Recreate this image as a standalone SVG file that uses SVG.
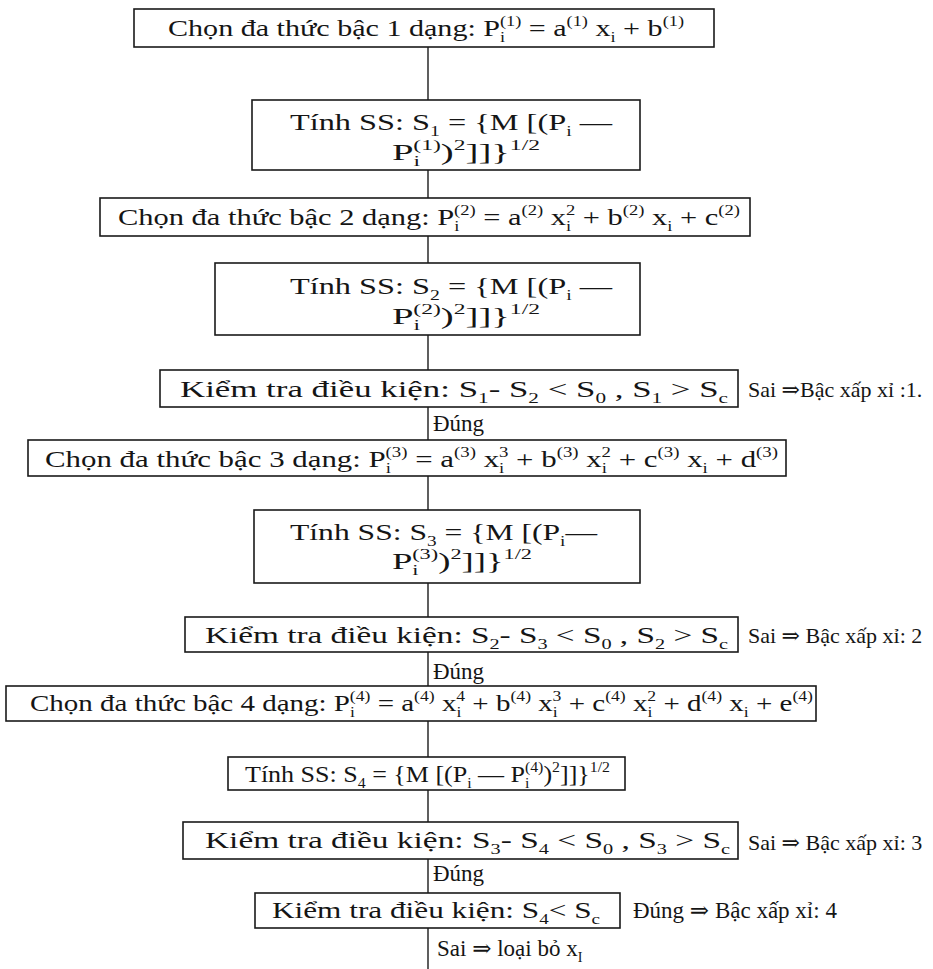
<svg xmlns="http://www.w3.org/2000/svg" width="933" height="969" viewBox="0 0 933 969">
<style>
.t{font-family:"Liberation Serif","Times New Roman","DejaVu Serif","Noto Serif",serif;font-size:23px;fill:#151515}
.r{font-size:22px}
.s{font-size:14px}
.box{fill:none;stroke:#1a1a1a;stroke-width:1.6}
.ln{stroke:#1a1a1a;stroke-width:1.4;fill:none}
</style>
<rect width="933" height="969" fill="#fff"/>
<g id="connectors">
<line class="ln" x1="428" y1="47" x2="428" y2="100"/>
<line class="ln" x1="428" y1="170" x2="428" y2="198"/>
<line class="ln" x1="428" y1="236" x2="428" y2="263"/>
<line class="ln" x1="428" y1="335" x2="428" y2="370"/>
<line class="ln" x1="428" y1="407" x2="428" y2="440"/>
<line class="ln" x1="428" y1="476" x2="428" y2="510"/>
<line class="ln" x1="428" y1="583" x2="428" y2="617"/>
<line class="ln" x1="428" y1="652" x2="428" y2="686"/>
<line class="ln" x1="428" y1="721" x2="428" y2="757"/>
<line class="ln" x1="428" y1="790" x2="428" y2="822"/>
<line class="ln" x1="428" y1="859" x2="428" y2="893"/>
<line class="ln" x1="428" y1="928" x2="428" y2="969"/>
</g>
<g id="n1">
<rect class="box" x="134" y="9" width="580" height="38"/>
<text class="t" x="168" y="36" textLength="516" lengthAdjust="spacingAndGlyphs">Chọn đa thức bậc 1 dạng: P<tspan class="s" dy="6">i</tspan><tspan class="s" dx="-4" dy="-16">(1)</tspan><tspan dy="10"> = a</tspan><tspan class="s" dy="-10">(1)</tspan><tspan dy="10"> x</tspan><tspan class="s" dy="6">i</tspan><tspan dy="-6"> + b</tspan><tspan class="s" dy="-10">(1)</tspan></text>
</g>
<g id="n2">
<rect class="box" x="252" y="100" width="388" height="70"/>
<text class="t" x="290" y="130" textLength="322" lengthAdjust="spacingAndGlyphs">Tính SS: S<tspan class="s" dy="6">1</tspan><tspan dy="-6"> = {M [(P</tspan><tspan class="s" dy="6">i</tspan><tspan dy="-6"> —</tspan></text>
<text class="t" x="392" y="160" textLength="148" lengthAdjust="spacingAndGlyphs">P<tspan class="s" dy="6">i</tspan><tspan class="s" dx="-4" dy="-16">(1)</tspan><tspan dy="10">)</tspan><tspan class="s" dy="-10">2</tspan><tspan dy="10">]]}</tspan><tspan class="s" dy="-10">1/2</tspan></text>
</g>
<g id="n3">
<rect class="box" x="100" y="198" width="650" height="38"/>
<text class="t" x="118" y="225" textLength="622" lengthAdjust="spacingAndGlyphs">Chọn đa thức bậc 2 dạng: P<tspan class="s" dy="6">i</tspan><tspan class="s" dx="-4" dy="-16">(2)</tspan><tspan dy="10"> = a</tspan><tspan class="s" dy="-10">(2)</tspan><tspan dy="10"> x</tspan><tspan class="s" dy="6">i</tspan><tspan class="s" dx="-4" dy="-16">2</tspan><tspan dy="10"> + b</tspan><tspan class="s" dy="-10">(2)</tspan><tspan dy="10"> x</tspan><tspan class="s" dy="6">i</tspan><tspan dy="-6"> + c</tspan><tspan class="s" dy="-10">(2)</tspan></text>
</g>
<g id="n4">
<rect class="box" x="215" y="263" width="425" height="72"/>
<text class="t" x="290" y="294" textLength="322" lengthAdjust="spacingAndGlyphs">Tính SS: S<tspan class="s" dy="6">2</tspan><tspan dy="-6"> = {M [(P</tspan><tspan class="s" dy="6">i</tspan><tspan dy="-6"> —</tspan></text>
<text class="t" x="392" y="324" textLength="148" lengthAdjust="spacingAndGlyphs">P<tspan class="s" dy="6">i</tspan><tspan class="s" dx="-4" dy="-16">(2)</tspan><tspan dy="10">)</tspan><tspan class="s" dy="-10">2</tspan><tspan dy="10">]]}</tspan><tspan class="s" dy="-10">1/2</tspan></text>
</g>
<g id="n5">
<rect class="box" x="160" y="370" width="578" height="37"/>
<text class="t" x="180" y="397" textLength="548" lengthAdjust="spacingAndGlyphs">Kiểm tra điều kiện: S<tspan class="s" dy="6">1</tspan><tspan dy="-6">- S</tspan><tspan class="s" dy="6">2</tspan><tspan dy="-6"> &lt; S</tspan><tspan class="s" dy="6">0</tspan><tspan dy="-6"> , S</tspan><tspan class="s" dy="6">1</tspan><tspan dy="-6"> &gt; S</tspan><tspan class="s" dy="6">c</tspan></text>
<text class="t r" x="748" y="397">Sai ⇒Bậc xấp xỉ :1.</text>
<text class="t" x="433" y="431">Đúng</text>
</g>
<g id="n6">
<rect class="box" x="28" y="440" width="758" height="36"/>
<text class="t" x="45" y="467" textLength="733" lengthAdjust="spacingAndGlyphs">Chọn đa thức bậc 3 dạng: P<tspan class="s" dy="6">i</tspan><tspan class="s" dx="-4" dy="-16">(3)</tspan><tspan dy="10"> = a</tspan><tspan class="s" dy="-10">(3)</tspan><tspan dy="10"> x</tspan><tspan class="s" dy="6">i</tspan><tspan class="s" dx="-4" dy="-16">3</tspan><tspan dy="10"> + b</tspan><tspan class="s" dy="-10">(3)</tspan><tspan dy="10"> x</tspan><tspan class="s" dy="6">i</tspan><tspan class="s" dx="-4" dy="-16">2</tspan><tspan dy="10"> + c</tspan><tspan class="s" dy="-10">(3)</tspan><tspan dy="10"> x</tspan><tspan class="s" dy="6">i</tspan><tspan dy="-6"> + d</tspan><tspan class="s" dy="-10">(3)</tspan></text>
</g>
<g id="n7">
<rect class="box" x="254" y="510" width="386" height="73"/>
<text class="t" x="290" y="540" textLength="307" lengthAdjust="spacingAndGlyphs">Tính SS: S<tspan class="s" dy="6">3</tspan><tspan dy="-6"> = {M [(P</tspan><tspan class="s" dy="6">i</tspan><tspan dy="-6">—</tspan></text>
<text class="t" x="392" y="569" textLength="140" lengthAdjust="spacingAndGlyphs">P<tspan class="s" dy="6">i</tspan><tspan class="s" dx="-4" dy="-16">(3)</tspan><tspan dy="10">)</tspan><tspan class="s" dy="-10">2</tspan><tspan dy="10">]]}</tspan><tspan class="s" dy="-10">1/2</tspan></text>
</g>
<g id="n8">
<rect class="box" x="185" y="617" width="553" height="35"/>
<text class="t" x="205" y="643" textLength="523" lengthAdjust="spacingAndGlyphs">Kiểm tra điều kiện: S<tspan class="s" dy="6">2</tspan><tspan dy="-6">- S</tspan><tspan class="s" dy="6">3</tspan><tspan dy="-6"> &lt; S</tspan><tspan class="s" dy="6">0</tspan><tspan dy="-6"> , S</tspan><tspan class="s" dy="6">2</tspan><tspan dy="-6"> &gt; S</tspan><tspan class="s" dy="6">c</tspan></text>
<text class="t r" x="748" y="643">Sai ⇒ Bậc xấp xỉ: 2</text>
<text class="t" x="433" y="679">Đúng</text>
</g>
<g id="n9">
<rect class="box" x="6" y="686" width="810" height="35"/>
<text class="t" x="30" y="711" textLength="783" lengthAdjust="spacingAndGlyphs">Chọn đa thức bậc 4 dạng: P<tspan class="s" dy="6">i</tspan><tspan class="s" dx="-4" dy="-16">(4)</tspan><tspan dy="10"> = a</tspan><tspan class="s" dy="-10">(4)</tspan><tspan dy="10"> x</tspan><tspan class="s" dy="6">i</tspan><tspan class="s" dx="-4" dy="-16">4</tspan><tspan dy="10"> + b</tspan><tspan class="s" dy="-10">(4)</tspan><tspan dy="10"> x</tspan><tspan class="s" dy="6">i</tspan><tspan class="s" dx="-4" dy="-16">3</tspan><tspan dy="10"> + c</tspan><tspan class="s" dy="-10">(4)</tspan><tspan dy="10"> x</tspan><tspan class="s" dy="6">i</tspan><tspan class="s" dx="-4" dy="-16">2</tspan><tspan dy="10"> + d</tspan><tspan class="s" dy="-10">(4)</tspan><tspan dy="10"> x</tspan><tspan class="s" dy="6">i</tspan><tspan dy="-6"> + e</tspan><tspan class="s" dy="-10">(4)</tspan></text>
</g>
<g id="n10">
<rect class="box" x="228" y="757" width="397" height="33"/>
<text class="t" x="245" y="782" textLength="365" lengthAdjust="spacingAndGlyphs">Tính SS: S<tspan class="s" dy="6">4</tspan><tspan dy="-6"> = {M [(P</tspan><tspan class="s" dy="6">i</tspan><tspan dy="-6"> — P</tspan><tspan class="s" dy="6">i</tspan><tspan class="s" dx="-4" dy="-16">(4)</tspan><tspan dy="10">)</tspan><tspan class="s" dy="-10">2</tspan><tspan dy="10">]]}</tspan><tspan class="s" dy="-10">1/2</tspan></text>
</g>
<g id="n11">
<rect class="box" x="183" y="822" width="555" height="37"/>
<text class="t" x="205" y="848" textLength="525" lengthAdjust="spacingAndGlyphs">Kiểm tra điều kiện: S<tspan class="s" dy="6">3</tspan><tspan dy="-6">- S</tspan><tspan class="s" dy="6">4</tspan><tspan dy="-6"> &lt; S</tspan><tspan class="s" dy="6">0</tspan><tspan dy="-6"> , S</tspan><tspan class="s" dy="6">3</tspan><tspan dy="-6"> &gt; S</tspan><tspan class="s" dy="6">c</tspan></text>
<text class="t r" x="748" y="850">Sai ⇒ Bậc xấp xỉ: 3</text>
<text class="t" x="433" y="881">Đúng</text>
</g>
<g id="n12">
<rect class="box" x="255" y="893" width="365" height="35"/>
<text class="t" x="272" y="918" textLength="328" lengthAdjust="spacingAndGlyphs">Kiểm tra điều kiện: S<tspan class="s" dy="6">4</tspan><tspan dy="-6">&lt; S</tspan><tspan class="s" dy="6">c</tspan></text>
<text class="t" x="633" y="918" font-size="24">Đúng ⇒ Bậc xấp xỉ: 4</text>
<text class="t" x="437" y="956" font-size="24">Sai ⇒ loại bỏ x<tspan class="s" dy="6">I</tspan></text>
</g>
</svg>
